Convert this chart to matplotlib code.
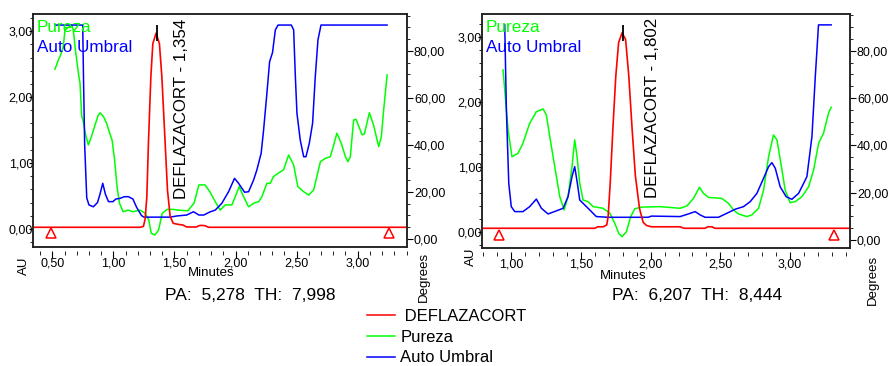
import matplotlib.pyplot as plt
from matplotlib.lines import Line2D
from matplotlib.ticker import MultipleLocator, FuncFormatter

plt.rcParams['font.family'] = ['Liberation Sans', 'DejaVu Sans']

RED = '#ff0000'
GREEN = '#00ff00'
BLUE = '#0000ff'

# ---- left run: DEFLAZACORT at 1,354 min ----
l_xlim = (0.342, 3.404)
l_red_t = [0.342, 1.22, 1.246, 1.26, 1.274, 1.287, 1.307, 1.323, 1.35, 1.377, 1.397, 1.424,
           1.443, 1.465, 1.49, 1.53, 1.57, 1.60, 1.68, 1.70, 1.72, 1.75, 1.78, 3.404]
l_red = [0.026, 0.026, 0.04, 0.15, 0.49, 1.3, 2.31, 2.81, 2.97, 2.81, 2.31, 1.3,
         0.59, 0.19, 0.086, 0.07, 0.06, 0.03, 0.03, 0.05, 0.055, 0.05, 0.026, 0.026]
l_pur_t = [0.522, 0.55, 0.563, 0.577, 0.59, 0.604, 0.63, 0.659, 0.672, 0.69, 0.70, 0.715,
           0.727, 0.741, 0.75, 0.77, 0.795, 0.82, 0.85, 0.875, 0.891, 0.92, 0.945, 0.97,
           0.99, 1.01, 1.03, 1.05, 1.08, 1.12, 1.16, 1.22, 1.26, 1.29, 1.31, 1.34,
           1.37, 1.40, 1.44, 1.49, 1.53, 1.61, 1.66, 1.70, 1.75, 1.79, 1.834, 1.875,
           1.916, 1.97, 1.998, 2.03, 2.066, 2.107, 2.148, 2.19, 2.216, 2.257, 2.285, 2.31,
           2.35, 2.393, 2.435, 2.476, 2.51, 2.558, 2.60, 2.64, 2.695, 2.735, 2.776, 2.80,
           2.83, 2.866, 2.90, 2.92, 2.94, 2.967, 2.987, 3.036, 3.055, 3.096, 3.13, 3.172,
           3.194, 3.213, 3.241]
l_pur = [72.2, 76.2, 77.6, 79.7, 82.0, 88.9, 90.0, 91.0, 88.9, 80.0, 76.2, 70.0,
         66.3, 52.0, 51.0, 45.0, 40.0, 43.5, 48.5, 52.5, 53.7, 52.0, 49.2, 45.0,
         42.0, 33.6, 22.3, 15.2, 11.6, 12.3, 11.6, 12.3, 10.9, 8.1, 2.4, 1.7,
         3.8, 10.9, 12.6, 12.6, 12.3, 12.0, 15.2, 23.0, 23.0, 20.1, 15.9, 12.3,
         14.5, 14.5, 18.0, 22.3, 18.0, 13.7, 15.2, 15.9, 18.0, 23.7, 23.7, 26.5,
         28.0, 29.4, 35.7, 31.5, 22.3, 20.1, 18.7, 20.9, 32.9, 34.3, 35.0, 39.3,
         45.0, 40.7, 35.0, 32.9, 35.0, 50.6, 50.9, 44.3, 44.7, 53.7, 48.5, 39.3,
         43.5, 54.9, 69.8]
l_umb_t = [0.522, 0.749, 0.755, 0.765, 0.782, 0.80, 0.836, 0.87, 0.89, 0.913, 0.935, 0.96,
           0.997, 1.02, 1.055, 1.09, 1.123, 1.16, 1.19, 1.23, 1.25, 1.465, 1.52, 1.60,
           1.656, 1.70, 1.74, 1.79, 1.834, 1.888, 1.943, 1.992, 2.025, 2.074, 2.107, 2.148,
           2.175, 2.21, 2.23, 2.257, 2.279, 2.303, 2.326, 2.348, 2.457, 2.476, 2.49, 2.503,
           2.53, 2.558, 2.577, 2.604, 2.631, 2.653, 2.675, 2.70, 3.241]
l_umb = [91.0, 91.0, 70.0, 40.0, 17.5, 14.5, 13.7, 15.5, 19.0, 23.7, 19.0, 15.9,
         15.9, 17.0, 17.3, 18.0, 18.0, 17.0, 13.5, 10.0, 9.3, 9.3, 9.8, 10.2,
         11.6, 10.2, 10.2, 11.5, 12.3, 15.2, 20.1, 25.8, 23.7, 19.9, 20.1, 25.1,
         29.4, 36.5, 46.4, 62.0, 75.4, 79.3, 88.9, 91.0, 91.0, 88.9, 69.0, 53.5,
         42.1, 35.0, 35.0, 40.7, 49.2, 69.0, 84.7, 91.0, 91.0]
l_peak_rt, l_peak_au = 1.354, 2.97
l_window = [0.486, 3.26]
l_text = 'PA:  5,278  TH:  7,998'

# ---- right run: DEFLAZACORT at 1,802 min ----
r_xlim = (0.79, 3.43)
r_red_t = [0.79, 1.60, 1.62, 1.66, 1.685, 1.695, 1.71, 1.73, 1.75, 1.77, 1.795, 1.82, 1.843,
           1.867, 1.89, 1.92, 1.946, 1.97, 2.005, 2.21, 2.24, 2.39, 2.41, 2.44, 2.46, 3.43]
r_red = [0.057, 0.057, 0.08, 0.08, 0.11, 0.24, 0.76, 1.63, 2.4, 2.91, 3.06, 2.96, 2.4,
         1.58, 0.87, 0.36, 0.15, 0.1, 0.08, 0.08, 0.057, 0.057, 0.08, 0.08, 0.057, 0.057]
r_pur_t = [0.941, 0.977, 1.005, 1.048, 1.084, 1.132, 1.18, 1.228, 1.252, 1.276, 1.312, 1.348,
           1.379, 1.407, 1.436, 1.455, 1.472, 1.491, 1.515, 1.551, 1.587, 1.659, 1.707, 1.743,
           1.771, 1.795, 1.826, 1.857, 1.886, 1.934, 2.068, 2.211, 2.26, 2.307, 2.35, 2.379,
           2.415, 2.51, 2.558, 2.594, 2.63, 2.69, 2.726, 2.774, 2.81, 2.846, 2.881, 2.906,
           2.934, 2.965, 3.0, 3.037, 3.085, 3.133, 3.169, 3.205, 3.24, 3.276, 3.295]
r_pur = [71.9, 46.5, 35.2, 36.6, 40.9, 49.3, 54.2, 55.4, 52.8, 43.7, 31.0, 18.3,
         12.7, 18.3, 31.0, 42.3, 35.2, 24.0, 16.9, 16.2, 14.1, 13.4, 11.3, 7.0,
         2.8, 1.4, 3.5, 9.9, 13.2, 13.9, 14.1, 13.4, 14.4, 17.6, 22.3, 19.7,
         18.0, 17.6, 15.5, 12.7, 11.0, 9.9, 10.6, 13.4, 21.1, 35.2, 44.4, 42.3,
         32.4, 21.1, 15.8, 16.2, 18.3, 22.5, 29.6, 40.9, 45.1, 53.6, 56.1]
r_umb_t = [0.953, 0.965, 0.982, 1.0, 1.025, 1.084, 1.132, 1.18, 1.216, 1.264, 1.323, 1.372,
           1.407, 1.436, 1.455, 1.474, 1.491, 1.527, 1.563, 1.61, 1.695, 1.982, 2.005, 2.211,
           2.27, 2.319, 2.355, 2.39, 2.486, 2.547, 2.606, 2.666, 2.714, 2.762, 2.81, 2.846,
           2.87, 2.894, 2.929, 2.972, 3.013, 3.061, 3.097, 3.121, 3.157, 3.181, 3.204, 3.295]
r_umb = [90.9, 55.0, 24.0, 14.1, 12.0, 12.0, 14.1, 17.3, 13.4, 11.0, 12.3, 13.4,
         18.3, 26.8, 31.0, 24.0, 16.9, 14.8, 12.7, 9.9, 9.6, 9.6, 10.1, 9.9,
         11.0, 12.0, 10.6, 9.6, 9.6, 11.3, 13.0, 14.1, 16.2, 19.7, 26.1, 31.0,
         32.7, 30.3, 22.5, 18.3, 17.2, 19.7, 23.9, 26.8, 43.7, 69.0, 90.9, 90.9]
r_peak_rt, r_peak_au = 1.802, 3.06
r_window = [0.909, 3.318]
r_text = 'PA:  6,207  TH:  8,444'

comma = FuncFormatter(lambda v, pos: f'{v:.2f}'.replace('.', ','))


def draw_run(fig, rect, xlim, au_lim, deg_lim, red_t, red, pur_t, pur, umb_t, umb,
             peak_rt, peak_au, name_pos, window, tri_au, name_y):
    ax_deg = fig.add_axes(rect)
    ax_au = ax_deg.twinx()

    # degrees traces (purity angle / threshold)
    ax_deg.plot(pur_t, pur, color=GREEN, lw=1.1)
    ax_deg.plot(umb_t, umb, color=BLUE, lw=1.1)
    ax_deg.set_xlim(*xlim)
    ax_deg.set_ylim(*deg_lim)
    ax_deg.yaxis.tick_right()
    ax_deg.yaxis.set_major_locator(MultipleLocator(20))
    ax_deg.yaxis.set_minor_locator(MultipleLocator(5))
    ax_deg.yaxis.set_major_formatter(comma)
    ax_deg.tick_params(axis='y', which='major', direction='out', length=4, pad=1,
                       labelsize=9, right=True, left=False)
    ax_deg.tick_params(axis='y', which='minor', direction='out', length=2.5,
                       right=True, left=False)
    ax_deg.tick_params(axis='x', which='both', bottom=False, labelbottom=False)

    # chromatogram in AU on top
    ax_au.plot(red_t, red, color=RED, lw=1.2)
    ax_au.plot(window, [tri_au] * len(window), ls='none', marker='^', ms=7,
               mfc='none', mec=RED, mew=1.1)
    ax_au.plot([peak_rt], [peak_au], marker='|', ms=11, mew=1.3, color='black')
    ax_au.text(name_pos[0], name_pos[1], f'DEFLAZACORT - {peak_rt:.3f}'.replace('.', ','),
               rotation=90, ha='center', va='bottom', fontsize=12.2)
    ax_au.set_xlim(*xlim)
    ax_au.set_ylim(*au_lim)
    ax_au.yaxis.tick_left()
    ax_au.yaxis.set_major_locator(MultipleLocator(1))
    ax_au.yaxis.set_minor_locator(MultipleLocator(0.2))
    ax_au.yaxis.set_major_formatter(comma)
    ax_au.tick_params(axis='y', which='major', direction='out', length=3, pad=-3,
                      labelsize=9, left=True, right=False)
    ax_au.tick_params(axis='y', which='minor', direction='out', length=2,
                      left=True, right=False)

    ax_au.text(0.01, name_y[0], 'Pureza', color=GREEN, fontsize=12.3,
               transform=ax_au.transAxes, va='baseline')
    ax_au.text(0.01, name_y[1], 'Auto Umbral', color=BLUE, fontsize=12.3,
               transform=ax_au.transAxes, va='baseline')

    # detached minutes ruler under the plot
    sec = ax_au.secondary_xaxis(-0.016)
    sec.spines['bottom'].set_visible(False)
    sec.xaxis.set_major_locator(MultipleLocator(0.5))
    sec.xaxis.set_minor_locator(MultipleLocator(0.1))
    sec.xaxis.set_major_formatter(comma)
    sec.tick_params(which='major', direction='out', length=5, pad=0, labelsize=9)
    sec.tick_params(which='minor', direction='out', length=2.7)

    for a in (ax_deg, ax_au):
        for sp in a.spines.values():
            sp.set_color('#222222')
            sp.set_linewidth(1.1)
    return ax_deg, ax_au


fig = plt.figure(figsize=(8.91, 3.66), dpi=100)
W, H = 891, 366

draw_run(fig, [33 / W, 1 - 247 / H, 374 / W, 233 / H], l_xlim, (-0.273, 3.26), (-3.4, 95.7),
         l_red_t, l_red, l_pur_t, l_pur, l_umb_t, l_umb, l_peak_rt, l_peak_au,
         (1.56, 0.46), l_window, -0.066, (0.923, 0.836))
draw_run(fig, [482 / W, 1 - 248 / H, 368 / W, 234 / H], r_xlim, (-0.246, 3.35), (-3.38, 95.5),
         r_red_t, r_red, r_pur_t, r_pur, r_umb_t, r_umb, r_peak_rt, r_peak_au,
         (2.01, 0.52), r_window, -0.046, (0.922, 0.836))

# axis captions sitting around each panel
fig.text(24 / W, 1 - 266 / H, 'AU', rotation=90, ha='center', va='center', fontsize=9.5)
fig.text(424 / W, 1 - 277 / H, 'Degrees', rotation=90, ha='center', va='center', fontsize=9.5)
fig.text(211 / W, 1 - 273 / H, 'Minutes', ha='center', va='center', fontsize=9.5)
fig.text(250 / W, 1 - 295 / H, l_text, ha='center', va='center', fontsize=12.5)

fig.text(471 / W, 1 - 257 / H, 'AU', rotation=90, ha='center', va='center', fontsize=9.5)
fig.text(873 / W, 1 - 280 / H, 'Degrees', rotation=90, ha='center', va='center', fontsize=9.5)
fig.text(623 / W, 1 - 276 / H, 'Minutes', ha='center', va='center', fontsize=9.5)
fig.text(697 / W, 1 - 296 / H, r_text, ha='center', va='center', fontsize=12.5)

handles = [Line2D([], [], color=RED, lw=1.1, label=' DEFLAZACORT'),
           Line2D([], [], color=GREEN, lw=1.1, label='Pureza'),
           Line2D([], [], color=BLUE, lw=1.1, label='Auto Umbral')]
fig.legend(handles=handles, loc='upper left', bbox_to_anchor=(367 / W, 1 - 309 / H),
           frameon=False, fontsize=12, handlelength=1.7, handletextpad=0.3,
           labelspacing=0.34, borderpad=0, borderaxespad=0)

fig.savefig('out.png', dpi=100)
